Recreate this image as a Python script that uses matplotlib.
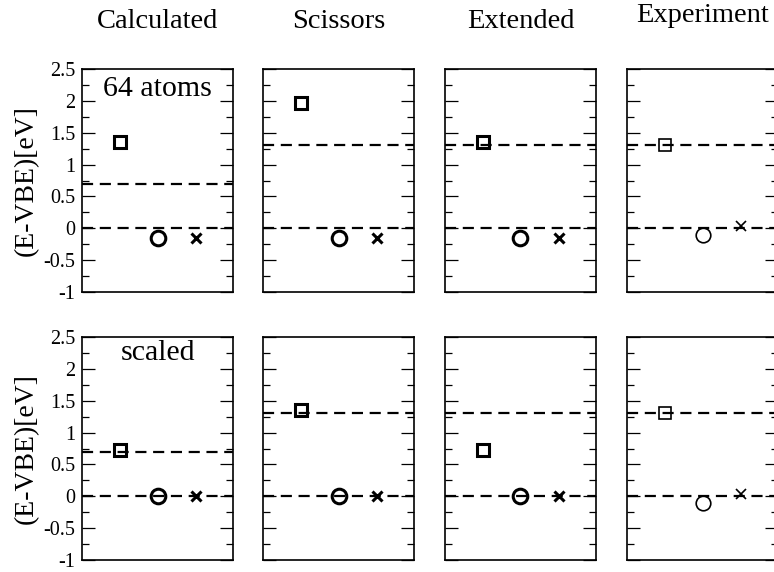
import matplotlib
matplotlib.use('Agg')
import matplotlib.pyplot as plt
from matplotlib.ticker import MultipleLocator, FormatStrFormatter

plt.rcParams['font.family'] = ['Liberation Serif', 'DejaVu Serif']
plt.rcParams['axes.unicode_minus'] = False

# Level positions relative to the valence band edge, one value per method
methods = ['Calculated', 'Scissors', 'Extended', 'Experiment']
row_labels = ['64 atoms', 'scaled']

square_64 = [1.35, 1.97, 1.35, 1.30]
circle_64 = [-0.15, -0.15, -0.15, -0.10]
cross_64 = [-0.15, -0.15, -0.15, 0.03]

square_scaled = [0.73, 1.35, 0.72, 1.30]
circle_scaled = [0.00, 0.00, 0.00, -0.10]
cross_scaled = [0.00, 0.00, 0.00, 0.03]

vbe = [0.0, 0.0, 0.0, 0.0]
cbe = [0.69, 1.30, 1.30, 1.30]

rows = [(square_64, circle_64, cross_64), (square_scaled, circle_scaled, cross_scaled)]

W, H = 774, 572
fig = plt.figure(figsize=(W / 100, H / 100), dpi=100)

lefts = [82, 263, 445, 627]
tops = [69, 337]
aw, ah = 151, 223

for r, (sq, ci, cr) in enumerate(rows):
    for c in range(4):
        ax = fig.add_axes([lefts[c] / W, 1 - (tops[r] + ah) / H, aw / W, ah / H])
        ax.set_xlim(0, 1)
        ax.set_ylim(-1, 2.5)
        mew = 1.2 if c == 3 else 2.2
        for lev in (vbe[c], cbe[c]):
            ax.axhline(lev, color='black', lw=1.6, ls=(0, (5, 3)), zorder=1)
        ax.plot([0.25], [sq[c]], 's', ms=9 if c < 3 else 8.5, mfc='none', mec='black', mew=mew, zorder=3)
        ax.plot([0.5], [ci[c]], 'o', ms=10.5, mfc='none', mec='black', mew=mew, zorder=3)
        ax.plot([0.755], [cr[c]], 'x', ms=7, mec='black', mew=mew, zorder=3)

        ax.yaxis.set_major_locator(MultipleLocator(0.5))
        ax.yaxis.set_minor_locator(MultipleLocator(0.25))
        ax.yaxis.set_major_formatter(FormatStrFormatter('%g'))
        ax.tick_params(axis='y', which='major', direction='in', length=9.5, width=0.9,
                       left=True, right=True, labelsize=14.5, pad=5)
        ax.tick_params(axis='y', which='minor', direction='in', length=5, width=0.9,
                       left=True, right=True)
        ax.set_xticks([])
        for sp in ax.spines.values():
            sp.set_linewidth(1.2)
        if c == 0:
            ax.set_ylabel('(E-VBE)[eV]', fontsize=20, labelpad=3)
            ax.text(0.5, 0.91 if r == 0 else 0.93, row_labels[r], transform=ax.transAxes,
                    ha='center', va='center', fontsize=21.5)
        else:
            ax.tick_params(axis='y', labelleft=False)

# Column titles
for c, name in enumerate(methods):
    base = 22 if c == 3 else 28
    fig.text((lefts[c] + aw / 2) / W, 1 - base / H, name, ha='center',
             va='baseline', fontsize=20.5)

fig.savefig('out.png', dpi=100)
